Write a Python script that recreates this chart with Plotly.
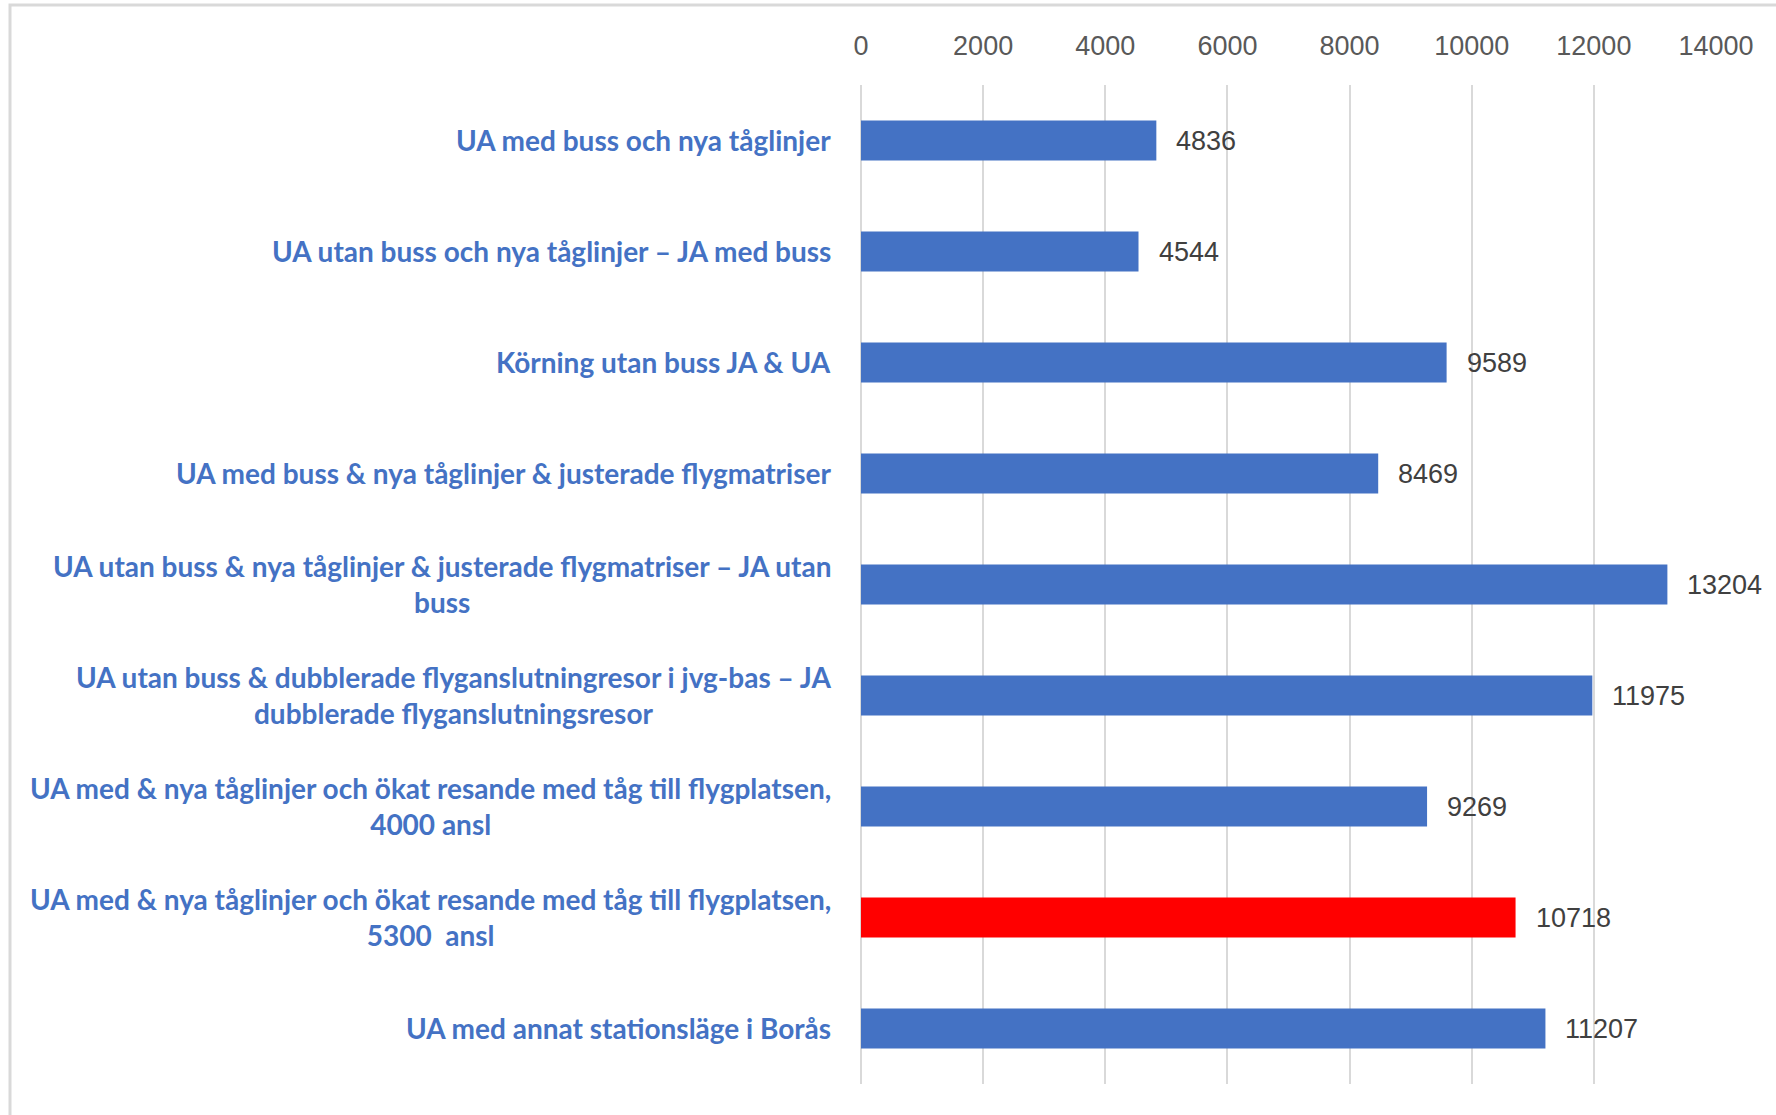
import plotly.graph_objects as go

categories = [
    "UA med buss och nya tåglinjer",
    "UA utan buss och nya tåglinjer – JA med buss",
    "Körning utan buss JA & UA",
    "UA med buss & nya tåglinjer & justerade flygmatriser",
    "UA utan buss & nya tåglinjer & justerade flygmatriser – JA utan<br>buss",
    "UA utan buss & dubblerade flyganslutningresor i jvg-bas – JA<br>dubblerade flyganslutningsresor",
    "UA med & nya tåglinjer och ökat resande med tåg till flygplatsen,<br>4000 ansl",
    "UA med & nya tåglinjer och ökat resande med tåg till flygplatsen,<br>5300  ansl",
    "UA med annat stationsläge i Borås",
]
values = [4836, 4544, 9589, 8469, 13204, 11975, 9269, 10718, 11207]
highlight = [False, False, False, False, False, False, False, True, False]
x_ticks = [0, 2000, 4000, 6000, 8000, 10000, 12000, 14000]

BLUE = "#4472C4"
RED = "#FF0000"
colors = [RED if h else BLUE for h in highlight]
ids = list(range(len(categories)))

fig = go.Figure(
    go.Bar(
        x=values,
        y=ids,
        orientation="h",
        marker=dict(color=colors, line=dict(width=0)),
        hoverinfo="skip",
    )
)

annotations = []
for i, (cat, v) in enumerate(zip(categories, values)):
    annotations.append(dict(
        x=0, y=i, xref="x", yref="y", text=cat, showarrow=False,
        xanchor="right", yanchor="middle", align="center", xshift=-28, yshift=1,
        font=dict(family="Lato, Liberation Sans", size=28, color=BLUE, weight="bold"),
    ))
    annotations.append(dict(
        x=v, y=i, xref="x", yref="y", text=str(v), showarrow=False,
        xanchor="left", yanchor="middle", xshift=18,
        font=dict(family="Liberation Sans, Arial", size=27, color="#404040"),
    ))

# plot area in px: x 861..1716, y 85..1084
L, R, T, B = 861, 1776 - 1716, 85, 1115 - 1084
PW, PH = 1776 - L - R, 1115 - T - B

def px2paper_x(px):
    return (px - L) / PW

def px2paper_y(py):
    return (1115 - B - py) / PH

shapes = [dict(
    type="rect", xref="paper", yref="paper",
    x0=px2paper_x(10), x1=px2paper_x(1800), y0=px2paper_y(1140), y1=px2paper_y(5),
    line=dict(color="#D9D9D9", width=3), fillcolor="rgba(0,0,0,0)", layer="below",
)]

fig.update_layout(
    width=1776, height=1115,
    margin=dict(l=L, r=R, t=T, b=B, pad=0),
    paper_bgcolor="white", plot_bgcolor="white",
    bargap=0.64,
    showlegend=False,
    annotations=annotations,
    shapes=shapes,
    xaxis=dict(
        side="top", range=[0, 14000], tickvals=x_ticks,
        ticktext=[str(t) for t in x_ticks],
        showgrid=True, gridcolor="#D9D9D9", gridwidth=2,
        zeroline=True, zerolinecolor="#D9D9D9", zerolinewidth=2,
        showline=False, ticks="", ticklabelstandoff=24,
        tickfont=dict(family="Liberation Sans, Arial", size=27, color="#595959"),
        fixedrange=True,
    ),
    yaxis=dict(
        range=[len(categories) - 0.5, -0.5], showticklabels=False,
        showgrid=False, zeroline=False, showline=False, ticks="",
        fixedrange=True,
    ),
)

fig.write_html("out.html")
